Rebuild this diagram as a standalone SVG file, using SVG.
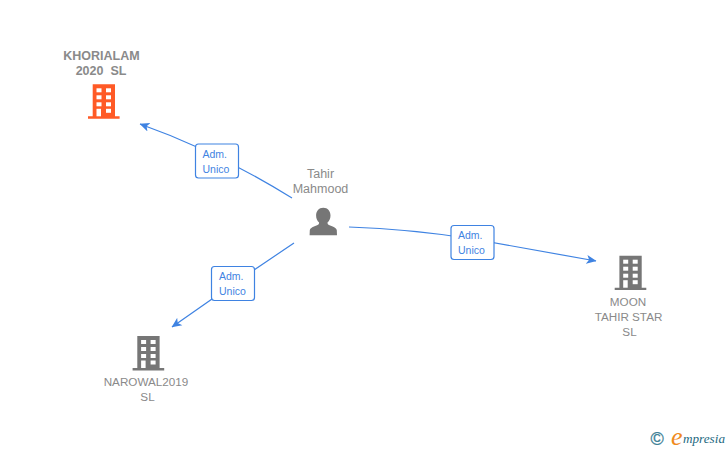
<svg xmlns="http://www.w3.org/2000/svg" width="728" height="450" viewBox="0 0 728 450">
<style>
text{font-family:"Liberation Sans",Arial,sans-serif}
.lbl{font-size:11.7px;fill:#8a8a8a;text-anchor:middle}
.per{font-size:12.500px}
.b{font-weight:bold;font-size:12.500px}
.conn{fill:none;stroke:#3f83e2;stroke-width:1.2}
.badge{fill:#fff;stroke:#3f83e2;stroke-width:1.2}
.bt{font-size:10.5px;fill:#3f83e2}
.win{fill:#fff}
</style>
<defs>
<marker id="ah" viewBox="0 0 10 10" refX="9.5" refY="5" markerUnits="userSpaceOnUse" markerWidth="10" markerHeight="10" orient="auto">
<path d="M0,0.5 L10,5 L0,9.5 L2.5,5 Z" fill="#3f83e2"/>
</marker>
<g id="bld">
<path d="M4.7,0 H27 V32 H31.6 V34.4 H0 V32 H4.7 Z"/>
<g class="win">
<rect x="8.5" y="4" width="5" height="4"/><rect x="18" y="4" width="5" height="4"/>
<rect x="8.5" y="11" width="5" height="4"/><rect x="18" y="11" width="5" height="4"/>
<rect x="8.5" y="18" width="5" height="4"/><rect x="18" y="18" width="5" height="4"/>
<rect x="8.5" y="24.5" width="4.5" height="7.5"/><rect x="18" y="24.5" width="5" height="4"/>
</g>
</g>
</defs>
<rect width="728" height="450" fill="#fff"/>
<g id="connectors">
<path class="conn" marker-end="url(#ah)" d="M292,198 Q216,151 140,124"/>
<path class="conn" marker-end="url(#ah)" d="M349,227 Q410,229 473,239 L596,261"/>
<path class="conn" marker-end="url(#ah)" d="M294,243 Q233,284 172,327"/>
</g>
<g id="badge1"><rect class="badge" x="195.5" y="144" width="43" height="34" rx="3"/><text class="bt" x="202.500" y="157.500">Adm.</text><text class="bt" x="202.500" y="172.500">Unico</text></g>
<g id="badge2"><rect class="badge" x="451" y="225.500" width="43" height="34" rx="3"/><text class="bt" x="458" y="239">Adm.</text><text class="bt" x="458" y="254">Unico</text></g>
<g id="badge3"><rect class="badge" x="211.500" y="266.500" width="43" height="34" rx="3"/><text class="bt" x="219" y="279.500">Adm.</text><text class="bt" x="219" y="294.500">Unico</text></g>
<g id="node-khorialam">
<text class="lbl b" x="101.500" y="60">KHORIALAM</text>
<text class="lbl b" x="101" y="75" xml:space="preserve">2020  SL</text>
<use href="#bld" x="88" y="84.300" fill="#ff5a26"/>
</g>
<g id="node-tahir">
<text class="lbl per" x="320.500" y="178">Tahir</text>
<text class="lbl per" x="320.500" y="193">Mahmood</text>
<path fill="#767676" d="M323.300,207.700 c-4.500,0 -7.200,3.500 -7.200,7.800 c0,3 1.200,5.500 3,7 c0,1.500 -0.500,2.200 -2,2.800 c-3.500,1.400 -6.800,2.500 -7.300,5 l-0.200,5 h27.400 l-0.200,-5 c-0.500,-2.500 -3.800,-3.600 -7.300,-5 c-1.500,-0.600 -2,-1.300 -2,-2.800 c1.800,-1.500 3,-4 3,-7 c0,-4.300 -2.700,-7.800 -7.200,-7.800 Z"/>
</g>
<g id="node-moon">
<use href="#bld" x="614.700" y="255.700" fill="#767676"/>
<text class="lbl" x="628" y="306">MOON</text>
<text class="lbl" x="628.500" y="321">TAHIR STAR</text>
<text class="lbl" x="629.500" y="336">SL</text>
</g>
<g id="node-narowal">
<use href="#bld" x="132.600" y="336" fill="#767676"/>
<text class="lbl" x="146" y="385.500">NAROWAL2019</text>
<text class="lbl" x="147.500" y="400.500">SL</text>
</g>
<g id="logo">
<text x="650.500" y="445" font-size="18" fill="#3d7f96" stroke="#3d7f96" stroke-width="0.3">©</text>
<text x="671" y="445" font-size="26" font-style="italic" fill="#f08a1d" style="font-family:'Liberation Serif',serif">e</text>
<text x="683" y="443" font-size="13.200" font-style="italic" fill="#24697f" style="font-family:'Liberation Serif',serif">mpresia</text>
</g>
</svg>
